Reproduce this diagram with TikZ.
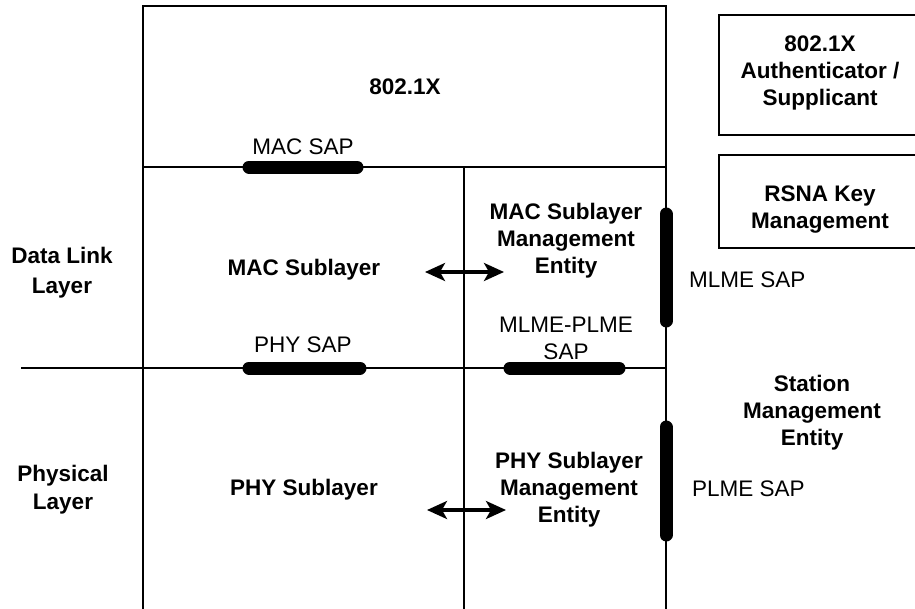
\documentclass[tikz,border=0pt]{standalone}
\usepackage{fontspec}
\setmainfont{Liberation Sans}
\usetikzlibrary{arrows.meta}
\begin{document}
\begin{tikzpicture}[x=1pt,y=-1pt,
  wire/.style={line width=2pt},
  sap/.style={line width=13pt, line cap=round},
  lbl/.style={font=\fontsize{22.5}{27}\selectfont, align=center, inner sep=0pt},
  blbl/.style={lbl, font=\fontsize{22.5}{27}\selectfont\bfseries},
  sidebox/.style={draw, line width=2pt, anchor=north west, inner sep=0pt, minimum width=206pt},
  biarrow/.style={line width=3.2pt, {Stealth[length=20pt,width=18pt,inset=5pt]}-{Stealth[length=20pt,width=18pt,inset=5pt]}}
  ]
\useasboundingbox (0,0) rectangle (915,608);
% frame coordinates
\coordinate (TL) at (143,6);
\coordinate (TR) at (666,6);
\coordinate (BL) at (143,612);
\coordinate (BR) at (666,612);
\coordinate (ML) at (143,167);
\coordinate (MR) at (666,167);
\coordinate (MM) at (464,167);
\coordinate (MB) at (464,612);
\coordinate (HL) at (21,368);
\coordinate (HR) at (666,368);
\draw[wire] (BL) -- (TL) -- (TR) -- (BR);
\draw[wire] (ML) -- (MR);
\draw[wire] (MM) -- (MB);
\draw[wire] (HL) -- (HR);
% side boxes
\node[sidebox, minimum height=120pt] (authbox) at (718,14) {};
\node[sidebox, minimum height=93pt] (rsnabox) at (718,154) {};
\node[blbl] (auth) at (820,73) {802.1X\\Authenticator /\\Supplicant};
\node[blbl] (rsna) at (820,210) {RSNA Key\\Management};
% SAP bars
\coordinate (macsapA) at (249,167); \coordinate (macsapB) at (357,167);
\coordinate (physapA) at (249,368); \coordinate (physapB) at (360,368);
\coordinate (mpsapA) at (510,368); \coordinate (mpsapB) at (619,368);
\coordinate (mlmesapA) at (666,214); \coordinate (mlmesapB) at (666,321);
\coordinate (plmesapA) at (666,427); \coordinate (plmesapB) at (666,535);
\draw[sap] (macsapA) -- (macsapB);
\draw[sap] (physapA) -- (physapB);
\draw[sap] (mpsapA) -- (mpsapB);
\draw[sap] (mlmesapA) -- (mlmesapB);
\draw[sap] (plmesapA) -- (plmesapB);
% labels
\node[blbl] (x8021) at (405,87) {802.1X};
\node[lbl] (macsap) at (303,147) {MAC SAP};
\node[blbl] (macsub) at (304,270) {MAC Sublayer};
\node[blbl] (mlme) at (566,241) {MAC Sublayer\\Management\\Entity};
\node[lbl] (mpsap) at (566,338) {MLME-PLME\\SAP};
\node[lbl] (physap) at (303,345) {PHY SAP};
\node[blbl, font=\fontsize{22.5}{30}\selectfont\bfseries] (dll) at (62,273) {Data Link\\Layer};
\node[blbl, font=\fontsize{22.5}{28}\selectfont\bfseries] (phl) at (63,490) {Physical\\Layer};
\node[blbl] (physub) at (304,490) {PHY Sublayer};
\node[blbl] (plme) at (569,490) {PHY Sublayer\\Management\\Entity};
\node[blbl] (sme) at (812,413) {Station\\Management\\Entity};
\node[lbl, anchor=west] (mlmesap) at (689,280) {MLME SAP};
\node[lbl, anchor=west] (plmesap) at (692,489) {PLME SAP};
% arrows
\coordinate (macL) at (425,272); \coordinate (macR) at (504,272);
\coordinate (phyL) at (427,510); \coordinate (phyR) at (506,510);
\draw[biarrow] (macL) -- (macR);
\draw[biarrow] (phyL) -- (phyR);
\end{tikzpicture}
\end{document}
